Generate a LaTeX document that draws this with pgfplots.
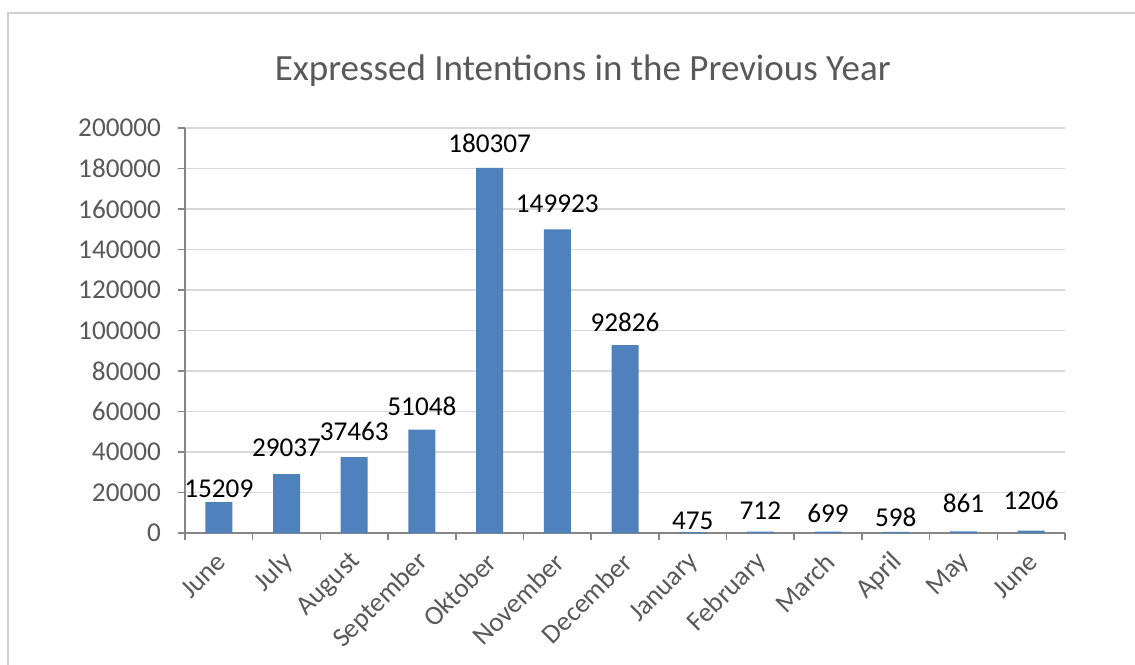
\documentclass[border=0pt]{standalone}
\usepackage{pgfplots}
\pgfplotsset{compat=1.18}
\usepackage{pgfplotstable}
\usepackage{fontspec}
\setmainfont{Carlito}
\definecolor{barblue}{HTML}{4F81BD}
\definecolor{txtgray}{HTML}{595959}
\definecolor{axgray}{HTML}{868686}
\definecolor{gridgray}{HTML}{D9D9D9}
\definecolor{framegray}{HTML}{D0D0D0}
\pgfplotstableread{
x y off
0 15209 2
1 29037 8.5
2 37463 8
3 51048 7
4 180307 7.5
5 149923 8
6 92826 6.5
7 475 1
8 712 6
9 699 4
10 598 2.5
11 861 9
12 1206 10
}\datatab
\begin{document}
\begin{tikzpicture}
\useasboundingbox (-92.5pt,-65.5pt) rectangle (475pt,266.5pt);
\draw[framegray, line width=0.8pt] (-88.5pt,-80pt) -- (-88.5pt,260pt) -- (490pt,260pt);
\begin{axis}[
  width=440pt, height=202.5pt, scale only axis,
  xmin=-0.5, xmax=12.5, ymin=0, ymax=200000,
  axis x line*=bottom, axis y line*=left,
  axis line style={-, axgray, line width=0.8pt},
  ytick={0,20000,...,200000},
  scaled y ticks=false,
  yticklabel style={/pgf/number format/fixed, /pgf/number format/1000 sep={}, /pgf/number format/assume math mode=true, txtgray, font=\fontsize{13.6}{15}\selectfont, xshift=-5pt},
  ymajorgrids, grid style={gridgray, line width=0.8pt},
  xtick={0,...,12},
  xticklabels={June,July,August,September,Oktober,November,December,January,February,March,April,May,June},
  xticklabel style={rotate=45, anchor=east, txtgray, font=\fontsize{13.6}{15}\selectfont, xshift=-2pt, yshift=-7pt},
  minor xtick={-0.5,0.5,...,12.5},
  major x tick style={draw=none},
  tick align=outside,
  major tick length=3.5pt, minor tick length=3.5pt,
  tick style={axgray, line width=0.8pt},
  title={Expressed Intentions in the Previous Year},
  title style={at={(axis description cs:0.452,1)}, anchor=center, yshift=22.5pt, txtgray, font=\fontsize{18.5}{22}\selectfont},
]
\addplot[ybar, bar width=13.5pt, fill=barblue, draw=none,
  point meta=explicit,
  visualization depends on={\thisrow{off} \as \myoff},
  nodes near coords={\pgfmathprintnumber[fixed, precision=0, 1000 sep={}, assume math mode=true]{\pgfplotspointmeta}},
  every node near coord/.append style={black, anchor=south, inner sep=0pt, yshift=\myoff pt, font=\fontsize{13.6}{15}\selectfont},
] table[x=x, y=y, meta=y] {\datatab};
\end{axis}
\end{tikzpicture}
\end{document}
